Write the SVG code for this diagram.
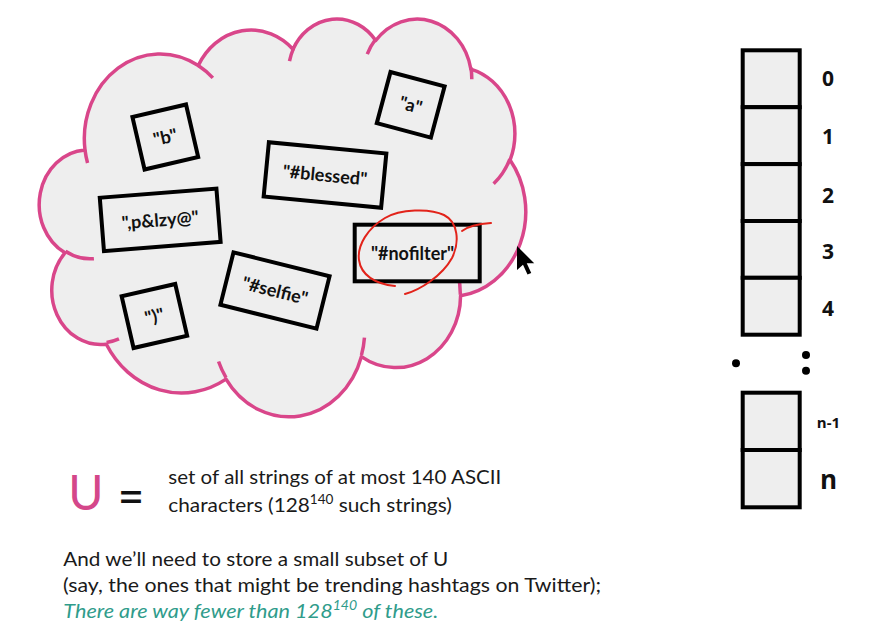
<svg xmlns="http://www.w3.org/2000/svg" width="878" height="631" viewBox="0 0 878 631">
<style>
 .cloud{fill:#eeeeee;stroke:#d9468a;stroke-width:3.5;stroke-linejoin:round}
 .curl{fill:none;stroke:#d9468a;stroke-width:3.5}
 .box{fill:#eeeeee;stroke:#000;stroke-width:4}
 .lbl{font-family:Lato,"Liberation Sans",sans-serif;font-weight:700;font-size:18px;fill:#111;text-anchor:middle}
 .cell{fill:#eeeeee;stroke:#000;stroke-width:4}
 .idx{font-family:"Open Sans","Liberation Sans",sans-serif;font-weight:700;font-size:21px;fill:#111;text-anchor:middle}
 .body{font-family:Lato,"Liberation Sans",sans-serif;font-size:20px;fill:#1a1a1a}
 .teal{fill:#2f9c8b;font-style:italic}
 .ink{fill:none;stroke:#e2231a;stroke-width:2;stroke-linecap:round}
</style>
<rect width="878" height="631" fill="#ffffff"/>
<g id="cloud" transform="translate(41.3,17.7) scale(0.01121,0.009205)">
 <path class="cloud" vector-effect="non-scaling-stroke" d="M3900,14370 A6753,9190 0 0 1 14004,5200 A5333,7267 0 0 1 22456,3432 A4365,5945 0 0 1 29833,2483 A4857,6595 0 0 1 38317,5580 A5333,7273 0 0 1 41817,15464 A6775,9220 0 0 1 37403,30206 A5785,7867 0 0 1 28554,36816 A6752,9215 0 0 1 16478,39265 A7720,10543 0 0 1 5802,35471 A4360,5918 0 0 1 2111,25548 A4345,5945 0 0 1 3900,14370 Z"/>
 <path class="curl" vector-effect="non-scaling-stroke" d="M4693,26177 A4345,5945 0 0 1 2159,25379 M6928,34899 A4360,5918 0 0 1 5819,35281 M16478,39090 A6752,9215 0 0 1 15811,37350 M28827,34751 A6752,9215 0 0 1 28560,36661 M34129,22954 A5785,7867 0 0 1 37380,30090 M41798,15354 A5333,7273 0 0 1 40350,18031 M38324,5426 A4857,6595 0 0 1 38400,6690 M29078,3952 A4857,6595 0 0 1 29821,2338 M22141,4720 A4365,5945 0 0 1 22501,3329 M14000,5192 A6753,9190 0 0 1 15302,6543 M4127,15789 A6753,9190 0 0 1 3900,14370"/>
</g>
<g id="box-a" transform="translate(410.7,104.8) rotate(15)">
 <rect class="box" x="-28" y="-26.5" width="56" height="53"/>
 <text class="lbl" x="0" y="6.5">"a"</text>
</g>
<g id="box-b" transform="translate(165.3,137) rotate(-13)">
 <rect class="box" x="-27.5" y="-27" width="55" height="54"/>
 <text class="lbl" x="0" y="6.5">"b"</text>
</g>
<g id="box-blessed" transform="translate(325,175) rotate(5.5)">
 <rect class="box" x="-59" y="-27.25" width="118" height="54.5"/>
 <text class="lbl" x="0" y="6.5">"#blessed"</text>
</g>
<g id="box-plzy" transform="translate(160.2,219.8) rotate(-4.5)">
 <rect class="box" x="-58.5" y="-26.75" width="117" height="53.5"/>
 <text class="lbl" x="0" y="6.5">",p&amp;lzy@"</text>
</g>
<g id="box-selfie" transform="translate(275,290.5) rotate(14)">
 <rect class="box" x="-49.5" y="-27" width="99" height="54"/>
 <text class="lbl" x="0" y="6.5">"#selfie"</text>
</g>
<g id="box-paren" transform="translate(154.4,316) rotate(-13)">
 <rect class="box" x="-27.5" y="-26.5" width="55" height="53"/>
 <text class="lbl" x="0" y="6.5">")"</text>
</g>
<g id="box-nofilter">
 <rect class="box" x="354.7" y="224.7" width="125" height="56.6"/>
 <text class="lbl" x="412.5" y="259.5">"#nofilter"</text>
</g>
<g id="annotation">
 <path class="ink" d="M405,294 C420,290 442,276 452,258 C460,242 458,222 444,215 C430,208 400,209 385,218 C368,228 357,245 359,260 C361,275 375,284 395,286"/>
 <path class="ink" d="M462,231 C467,227 477,224 491,223"/>
</g>
<g id="cursor">
 <polygon transform="translate(517,246) scale(1.5)" points="0,0 0,16 4,12.5 7,19 9.5,18 6.5,11.5 11.5,11.5" fill="#000"/>
</g>
<g id="hashtable">
 <g id="cell-0"><rect class="cell" x="742.7" y="50.3" width="57" height="56.9"/><text class="idx" x="828" y="86">0</text></g>
 <g id="cell-1"><rect class="cell" x="742.7" y="107.2" width="57" height="56.9"/><text class="idx" x="828" y="144">1</text></g>
 <g id="cell-2"><rect class="cell" x="742.7" y="164.1" width="57" height="56.9"/><text class="idx" x="828" y="202.5">2</text></g>
 <g id="cell-3"><rect class="cell" x="742.7" y="221" width="57" height="56.8"/><text class="idx" x="828" y="259">3</text></g>
 <g id="cell-4"><rect class="cell" x="742.7" y="277.8" width="57" height="56.9"/><text class="idx" x="828" y="316">4</text></g>
 <g id="dots" fill="#000">
  <circle cx="736" cy="363.3" r="4"/>
  <circle cx="806" cy="355" r="4"/>
  <circle cx="806" cy="370.7" r="4"/>
 </g>
 <g id="cell-n-1"><rect class="cell" x="742.7" y="392.7" width="57" height="57.3"/><text class="idx" x="828.5" y="428" style="font-size:15px">n-1</text></g>
 <g id="cell-n"><rect class="cell" x="742.7" y="450" width="57" height="57.3"/><text class="idx" x="828.5" y="489" style="font-size:26px">n</text></g>
</g>
<g id="definition">
 <text x="86" y="510" text-anchor="middle" style="font-family:Lato,'Liberation Sans',sans-serif;font-weight:400;font-size:48px;fill:#d4478a">U</text>
 <text x="119.5" y="507.8" textLength="23" lengthAdjust="spacingAndGlyphs" style="font-family:'Liberation Sans',sans-serif;font-weight:700;font-size:32px;fill:#111">=</text>
 <text class="body" x="168.3" y="483.5" textLength="333" lengthAdjust="spacingAndGlyphs">set of all strings of at most 140 ASCII</text>
 <text class="body" x="168.3" y="511.5" textLength="283.5" lengthAdjust="spacingAndGlyphs">characters (128<tspan dy="-8" font-size="13">140</tspan><tspan dy="8"> such strings)</tspan></text>
</g>
<g id="notes">
 <text class="body" x="63.3" y="566" textLength="385" lengthAdjust="spacingAndGlyphs">And we’ll need to store a small subset of U</text>
 <text class="body" x="63" y="591.5" textLength="538" lengthAdjust="spacingAndGlyphs">(say, the ones that might be trending hashtags on Twitter);</text>
 <text class="body teal" x="63.3" y="617.5" textLength="375" lengthAdjust="spacingAndGlyphs">There are way fewer than 128<tspan dy="-8" font-size="13">140</tspan><tspan dy="8"> of these.</tspan></text>
</g>
<g id="connectors"/>
</svg>
